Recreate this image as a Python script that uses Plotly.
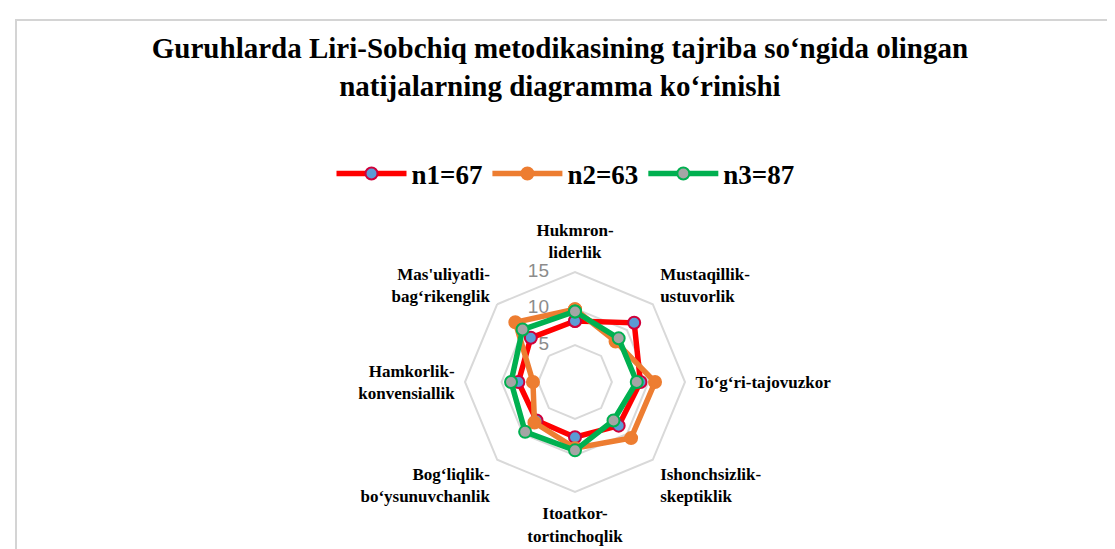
import plotly.graph_objects as go

categories = [
    "Hukmron-<br>liderlik",
    "Mustaqillik-<br>ustuvorlik",
    "To‘g‘ri-tajovuzkor",
    "Ishonchsizlik-<br>skeptiklik",
    "Itoatkor-<br>tortinchoqlik",
    "Bog‘liqlik-<br>bo‘ysunuvchanlik",
    "Hamkorlik-<br>konvensiallik",
    "Mas'uliyatli-<br>bag‘rikenglik",
]
n1 = [8.3, 11.4, 8.9, 8.4, 7.5, 7.4, 7.7, 8.5]
n2 = [9.9, 7.8, 10.9, 10.8, 9.0, 7.8, 5.7, 11.5]
n3 = [9.6, 8.4, 8.4, 7.4, 9.3, 9.6, 8.7, 10.1]
series_names = ["n1=67", "n2=63", "n3=87"]
radial_ticks = [0, 5, 10, 15]

styles = [
    dict(line="#ff0000", fill="#5b9bd5", edge="#d0003a"),
    dict(line="#ed7d31", fill="#ed7d31", edge="#ed7d31"),
    dict(line="#00b050", fill="#a5a5a5", edge="#00b050"),
]

fig = go.Figure()

# radial value labels drawn at their radii on the vertical axis, left of it
fig.add_trace(go.Scatterpolar(
    r=radial_ticks,
    theta=[categories[0]] * len(radial_ticks),
    mode="markers+text",
    marker=dict(size=40, opacity=0),
    text=[str(v) for v in radial_ticks],
    textposition="middle left",
    textfont=dict(family="Liberation Sans", size=19, color="#8c8c8c"),
    cliponaxis=False,
    showlegend=False, hoverinfo="skip",
))

for name, vals, st in zip(series_names, [n1, n2, n3], styles):
    fig.add_trace(go.Scatterpolar(
        r=vals + vals[:1],
        theta=categories + categories[:1],
        mode="lines+markers",
        name="<b>" + name + "</b>",
        line=dict(color=st["line"], width=5.5),
        marker=dict(size=12, color=st["fill"], line=dict(color=st["edge"], width=2)),
    ))

W, H = 1115, 549
cx, cy, R = 567, 374, 110

fig.update_layout(
    width=W, height=H,
    margin=dict(l=0, r=0, t=0, b=0),
    paper_bgcolor="white",
    title=dict(
        text="<b>Guruhlarda Liri-Sobchiq metodikasining tajriba so‘ngida olingan<br>natijalarning diagramma ko‘rinishi</b>",
        x=0.495, xanchor="center", y=1 - 50 / H, yanchor="top", yref="container",
        font=dict(family="Liberation Serif", size=29, color="black"),
    ),
    legend=dict(
        orientation="h", x=0.5, xanchor="center", y=1 - 166 / H, yanchor="middle",
        font=dict(family="Liberation Serif", size=27, color="black"),
        itemwidth=70,
    ),
    polar=dict(
        domain=dict(x=[(cx - R) / W, (cx + R) / W], y=[(H - cy - R) / H, (H - cy + R) / H]),
        bgcolor="white",
        gridshape="linear",
        radialaxis=dict(
            range=[-0.05, 15], tickvals=[5, 10, 15], angle=90,
            showticklabels=False,
            showline=False, ticks="", gridcolor="#d9d9d9", gridwidth=2,
        ),
        angularaxis=dict(
            direction="clockwise", rotation=90, showgrid=False,
            showline=True, linecolor="#d9d9d9", linewidth=2,
            ticks="outside", ticklen=6, tickcolor="rgba(0,0,0,0)",
            tickfont=dict(family="Liberation Serif", size=17, color="black", weight="bold"),
        ),
    ),
    shapes=[dict(type="rect", xref="paper", yref="paper",
                 x0=8 / W, x1=1.02, y0=-0.05, y1=1 - 12 / H,
                 line=dict(color="#d4d4d4", width=2))],
)

fig.write_html("out.html")
